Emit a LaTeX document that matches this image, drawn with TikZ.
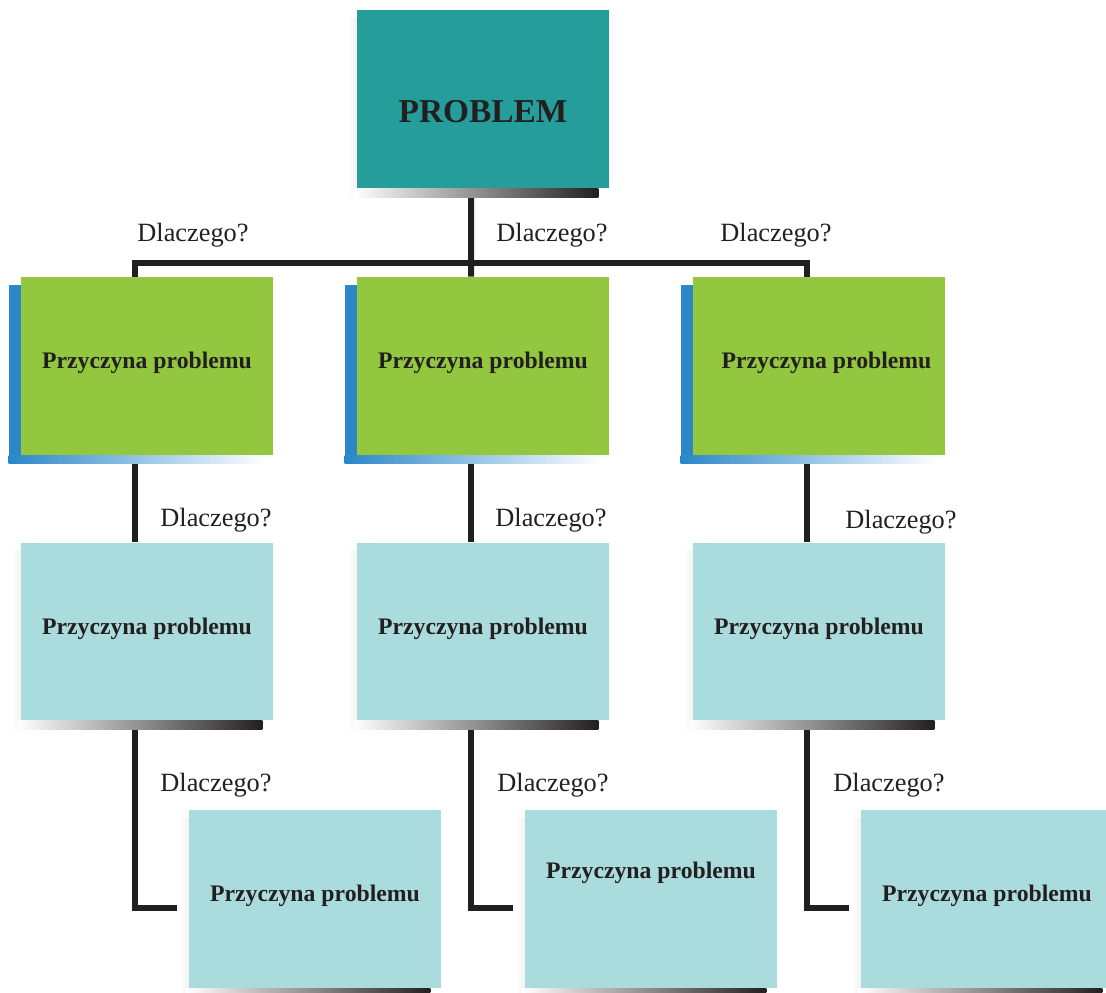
\documentclass[tikz,border=0pt]{standalone}
\usepackage{fontspec}
\setmainfont{Liberation Serif}
\usepackage{tikz}
\usetikzlibrary{backgrounds}

\definecolor{problemc}{HTML}{259E9B}
\definecolor{causec}{HTML}{92C73F}
\definecolor{subc}{HTML}{ABDCDD}
\definecolor{edgec}{HTML}{2A87C9}
\definecolor{inkc}{HTML}{231F20}

\tikzset{
  box/.style={rectangle, minimum width=5.04cm, minimum height=3.56cm, inner sep=0pt,
    text=inkc, text depth=0.22cm, font=\bfseries\fontsize{13.5}{15}\selectfont},
  link/.style={line width=0.12cm, draw=inkc},
  why/.style={text=inkc, font=\fontsize{15}{17}\selectfont}
}

% grey bar under a box, faint strip on its left
\newcommand\dropshade[1]{%
  \shade[left color=white, right color=black!5] ([xshift=-0.18cm,yshift=-0.16cm]#1.north west) rectangle ([yshift=-0.18cm]#1.south west);
  \shade[left color=white, right color=inkc] ([xshift=-0.06cm]#1.south west) rectangle ([xshift=-0.22cm,yshift=-0.18cm]#1.south east);
}
% blue edge of the first row of causes
\newcommand\blueside[1]{%
  \fill[edgec] ([xshift=-0.24cm,yshift=-0.16cm]#1.north west) rectangle ([yshift=-0.16cm]#1.south west);
  \shade[left color=edgec, right color=white] ([xshift=-0.24cm]#1.south west) rectangle ([xshift=-0.16cm,yshift=-0.16cm]#1.south east);
}

\begin{document}
\begin{tikzpicture}[x=0.02cm, y=-0.02cm]
	\useasboundingbox (0,0) rectangle (1106,992);

	\node[box, fill=problemc, text height=0.92cm, text depth=0pt,
	      font=\bfseries\fontsize{19}{22}\selectfont] (p) at (483,99) {PROBLEM};

	\node[box, fill=causec] (a1) at (147,366) {Przyczyna problemu};
	\node[box, fill=causec] (a2) at (483,366) {Przyczyna problemu};
	\node[box, fill=causec] (a3) at (819,366) {\hspace*{0.3cm}Przyczyna problemu};

	\node[box, fill=subc] (b1) at (147,631.5) {Przyczyna problemu};
	\node[box, fill=subc] (b2) at (483,631.5) {Przyczyna problemu};
	\node[box, fill=subc] (b3) at (819,631.5) {Przyczyna problemu};

	\node[box, fill=subc] (c1) at (315,899) {Przyczyna problemu};
	\node[box, fill=subc, text depth=1.15cm] (c2) at (651,899) {Przyczyna problemu};
	\node[box, fill=subc] (c3) at (987,899) {Przyczyna problemu};

	\coordinate (hub) at (471,263);

	\begin{scope}[on background layer]
		\draw[link] ([xshift=-0.24cm]p.south) -- (hub);
		\draw[link] ([xshift=-0.24cm]a1.north) |- (hub) -| ([xshift=-0.24cm]a3.north);
		\draw[link] (hub) -- ([xshift=-0.24cm]a2.north);
		\foreach \i in {1,2,3} {
			\draw[link] ([xshift=-0.24cm]a\i.south) -- ([xshift=-0.24cm]b\i.north);
			\draw[link] ([xshift=-0.24cm]b\i.south) |- ([xshift=-0.24cm,yshift=-0.18cm]c\i.west);
		}
		\dropshade{p}
		\foreach \n in {b1,b2,b3,c1,c2,c3} {\dropshade{\n}}
		\foreach \n in {a1,a2,a3} {\blueside{\n}}
	\end{scope}

	\node[why] (q1) at (193,235) {Dlaczego?};
	\node[why] (q2) at (552,235) {Dlaczego?};
	\node[why] (q3) at (776,235) {Dlaczego?};
	\node[why] (q4) at (216,520) {Dlaczego?};
	\node[why] (q5) at (551,520) {Dlaczego?};
	\node[why] (q6) at (901,522) {Dlaczego?};
	\node[why] (q7) at (216,785) {Dlaczego?};
	\node[why] (q8) at (553,785) {Dlaczego?};
	\node[why] (q9) at (889,785) {Dlaczego?};
\end{tikzpicture}
\end{document}
